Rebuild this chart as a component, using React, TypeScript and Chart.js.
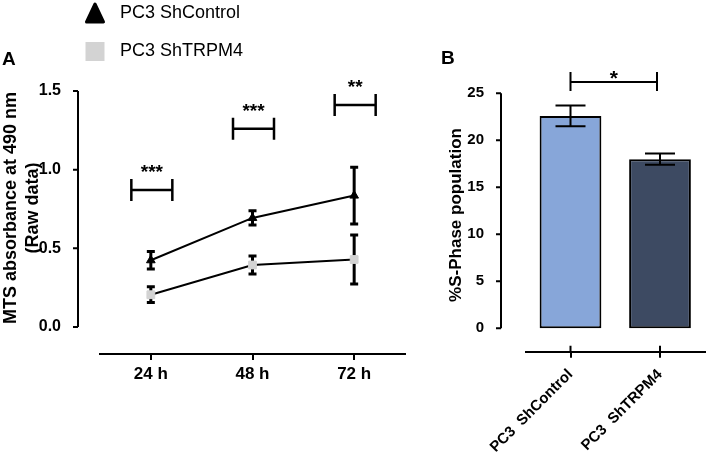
import React, { useEffect, useRef } from 'react';
import { Chart, registerables } from 'chart.js';

Chart.register(...registerables);

const FONT = '"Liberation Sans", Arial, Helvetica, sans-serif';

// ---- Panel A data ----
const TIMEPOINTS = ['24 h', '48 h', '72 h'];
const SHCONTROL_MEAN = [0.424, 0.693, 0.835];
const SHCONTROL_SEM = [0.055, 0.045, 0.18];
const SHTRPM4_MEAN = [0.205, 0.394, 0.429];
const SHTRPM4_SEM = [0.05, 0.057, 0.155];
const MTS_TICKS = [0, 0.5, 1.0, 1.5];
const MTS_SIG_Y = [0.87, 1.26, 1.41];
const MTS_SIG_TEXT = ['***', '***', '**'];
const MTS_TITLE = ['MTS absorbance at 490 nm', '(Raw data)'];
const LEGEND_LABELS = ['PC3 ShControl', 'PC3 ShTRPM4'];

// ---- Panel B data ----
const GROUPS = ['PC3  ShControl', 'PC3  ShTRPM4'];
const SPHASE_MEAN = [22.6, 18.0];
const SPHASE_SEM = [1.1, 0.6];
const SPHASE_TICKS = [0, 5, 10, 15, 20, 25];
const SPHASE_SIG_Y = 26.2;
const SPHASE_SIG_TEXT = '*';

const LIGHT_BLUE = '#87a6d9';
const DARK_BLUE = '#3d4a62';
const LIGHT_GRAY = '#d3d3d3';

const font = (size: number, weight: string = 'bold') => `${weight} ${size}px ${FONT}`;

const panelAPlugin = {
  id: 'panelA',
  beforeDatasetsDraw(chart: any) {
    const { ctx } = chart;
    const x = chart.scales.x;
    const y = chart.scales.y;
    ctx.save();
    ctx.strokeStyle = '#000';
    ctx.lineWidth = 3;
    const series: [number[], number[]][] = [
      [SHCONTROL_MEAN, SHCONTROL_SEM],
      [SHTRPM4_MEAN, SHTRPM4_SEM],
    ];
    series.forEach(([m, e]) => {
      m.forEach((v, i) => {
        const px = x.getPixelForValue(i);
        const top = y.getPixelForValue(v + e[i]);
        const bot = y.getPixelForValue(v - e[i]);
        ctx.beginPath();
        ctx.moveTo(px, top);
        ctx.lineTo(px, bot);
        ctx.moveTo(px - 4, top);
        ctx.lineTo(px + 4, top);
        ctx.moveTo(px - 4, bot);
        ctx.lineTo(px + 4, bot);
        ctx.stroke();
      });
    });
    ctx.restore();
  },
  afterDraw(chart: any) {
    const { ctx, chartArea } = chart;
    const x = chart.scales.x;
    const y = chart.scales.y;
    ctx.save();
    // detached y axis line
    const ax = chartArea.left - 22;
    ctx.strokeStyle = '#000';
    ctx.lineWidth = 2;
    ctx.beginPath();
    ctx.moveTo(ax, y.getPixelForValue(MTS_TICKS[MTS_TICKS.length - 1]));
    ctx.lineTo(ax, y.getPixelForValue(MTS_TICKS[0]));
    MTS_TICKS.forEach((v) => {
      const py = y.getPixelForValue(v);
      ctx.moveTo(ax - 5, py);
      ctx.lineTo(ax, py);
    });
    ctx.stroke();

    // y axis title (two lines)
    const midY = (chartArea.top + chartArea.bottom) / 2;
    ctx.save();
    ctx.fillStyle = '#000';
    ctx.font = font(18);
    ctx.textAlign = 'center';
    ctx.textBaseline = 'middle';
    ctx.translate(11, midY);
    ctx.rotate(-Math.PI / 2);
    ctx.fillText(MTS_TITLE[0], 0, 0);
    ctx.fillText(MTS_TITLE[1], 0, 22);
    ctx.restore();

    // significance brackets
    ctx.lineWidth = 2.5;
    ctx.fillStyle = '#000';
    ctx.font = font(19);
    ctx.textAlign = 'center';
    ctx.textBaseline = 'alphabetic';
    MTS_SIG_Y.forEach((v, i) => {
      const cx = x.getPixelForValue(i) + 1;
      const py = y.getPixelForValue(v);
      ctx.beginPath();
      ctx.moveTo(cx - 20.5, py);
      ctx.lineTo(cx + 20.5, py);
      ctx.moveTo(cx - 20.5, py - 11);
      ctx.lineTo(cx - 20.5, py + 11);
      ctx.moveTo(cx + 20.5, py - 11);
      ctx.lineTo(cx + 20.5, py + 11);
      ctx.stroke();
      ctx.fillText(MTS_SIG_TEXT[i], cx, py - 12);
    });

    // legend
    ctx.fillStyle = '#000';
    ctx.lineJoin = 'round';
    ctx.lineWidth = 3;
    ctx.beginPath();
    ctx.moveTo(95, 4);
    ctx.lineTo(103.5, 22);
    ctx.lineTo(86.5, 22);
    ctx.closePath();
    ctx.fill();
    ctx.stroke();
    ctx.fillStyle = LIGHT_GRAY;
    ctx.fillRect(85.5, 42, 19, 19);
    ctx.fillStyle = '#000';
    ctx.font = font(18, 'normal');
    ctx.textAlign = 'left';
    ctx.textBaseline = 'middle';
    ctx.fillText(LEGEND_LABELS[0], 120, 13);
    ctx.fillText(LEGEND_LABELS[1], 120, 51);

    // panel letter
    ctx.font = font(19);
    ctx.fillText('A', 2, 60);
    ctx.restore();
  },
};

const panelBPlugin = {
  id: 'panelB',
  afterDatasetsDraw(chart: any) {
    const { ctx } = chart;
    const x = chart.scales.x;
    const y = chart.scales.y;
    ctx.save();
    ctx.strokeStyle = '#000';
    ctx.lineWidth = 2;
    SPHASE_MEAN.forEach((v, i) => {
      const px = x.getPixelForValue(i);
      const top = y.getPixelForValue(v + SPHASE_SEM[i]);
      const bot = y.getPixelForValue(v - SPHASE_SEM[i]);
      ctx.beginPath();
      ctx.moveTo(px, top);
      ctx.lineTo(px, bot);
      ctx.moveTo(px - 15, top);
      ctx.lineTo(px + 15, top);
      ctx.moveTo(px - 15, bot);
      ctx.lineTo(px + 15, bot);
      ctx.stroke();
    });
    ctx.restore();
  },
  afterDraw(chart: any) {
    const { ctx, chartArea } = chart;
    const x = chart.scales.x;
    const y = chart.scales.y;
    ctx.save();
    ctx.strokeStyle = '#000';
    ctx.fillStyle = '#000';
    ctx.lineWidth = 2;
    // detached y axis
    const ax = chartArea.left - 24.75;
    ctx.beginPath();
    ctx.moveTo(ax, y.getPixelForValue(SPHASE_TICKS[SPHASE_TICKS.length - 1]));
    ctx.lineTo(ax, y.getPixelForValue(SPHASE_TICKS[0]));
    SPHASE_TICKS.forEach((v) => {
      const py = y.getPixelForValue(v);
      ctx.moveTo(ax - 5, py);
      ctx.lineTo(ax, py);
    });
    // x tick marks crossing upward
    GROUPS.forEach((_, i) => {
      const px = x.getPixelForValue(i);
      ctx.moveTo(px, chartArea.bottom - 6);
      ctx.lineTo(px, chartArea.bottom);
    });
    ctx.stroke();

    // significance bracket
    const x0 = x.getPixelForValue(0);
    const x1 = x.getPixelForValue(1) - 3;
    const py = y.getPixelForValue(SPHASE_SIG_Y);
    ctx.beginPath();
    ctx.moveTo(x0, py);
    ctx.lineTo(x1, py);
    ctx.moveTo(x0, py - 10);
    ctx.lineTo(x0, py + 9);
    ctx.moveTo(x1, py - 10);
    ctx.lineTo(x1, py + 9);
    ctx.stroke();
    ctx.font = font(21);
    ctx.textAlign = 'center';
    ctx.textBaseline = 'alphabetic';
    ctx.fillText(SPHASE_SIG_TEXT, (x0 + x1) / 2, py + 3);

    // panel letter
    ctx.font = font(19);
    ctx.textAlign = 'left';
    ctx.textBaseline = 'middle';
    ctx.fillText('B', 21, 59);
    ctx.restore();
  },
};

export default function App() {
  const refA = useRef<HTMLCanvasElement>(null);
  const refB = useRef<HTMLCanvasElement>(null);

  useEffect(() => {
    const chartA = new Chart(refA.current as HTMLCanvasElement, {
      type: 'line',
      data: {
        labels: TIMEPOINTS,
        datasets: [
          {
            label: LEGEND_LABELS[0],
            data: SHCONTROL_MEAN,
            borderColor: '#000',
            borderWidth: 2,
            pointStyle: 'triangle',
            pointRadius: 5,
            pointBackgroundColor: '#000',
            pointBorderColor: '#000',
            pointBorderWidth: 1,
            tension: 0,
          },
          {
            label: LEGEND_LABELS[1],
            data: SHTRPM4_MEAN,
            borderColor: '#000',
            borderWidth: 2,
            pointStyle: 'rect',
            pointRadius: 5.5,
            pointBackgroundColor: LIGHT_GRAY,
            pointBorderColor: LIGHT_GRAY,
            pointBorderWidth: 1,
            tension: 0,
          },
        ],
      },
      options: {
        responsive: false,
        animation: false,
        events: [],
        layout: { padding: { left: 0, top: 62, right: 25, bottom: 59 } },
        plugins: { legend: { display: false }, tooltip: { enabled: false } },
        scales: {
          x: {
            type: 'category',
            offset: true,
            grid: {
              display: true,
              drawOnChartArea: false,
              drawTicks: true,
              tickLength: 6,
              color: '#000',
              lineWidth: 2,
              offset: false,
            },
            border: { display: true, color: '#000', width: 2 },
            ticks: {
              color: '#000',
              font: { family: FONT, size: 17, weight: 'bold' },
              padding: 4,
              maxRotation: 0,
              minRotation: 0,
            },
            afterFit: (s: any) => {
              s.height = 50;
            },
          },
          y: {
            type: 'linear',
            min: -0.1716,
            max: 1.684,
            grid: { display: false },
            border: { display: false },
            afterBuildTicks: (s: any) => {
              s.ticks = MTS_TICKS.map((v) => ({ value: v }));
            },
            ticks: {
              color: '#000',
              font: { family: FONT, size: 16, weight: 'bold' },
              padding: 31,
              callback: (v: any) => Number(v).toFixed(1),
            },
            title: { display: false },
            afterFit: (s: any) => {
              s.width = 100;
            },
          },
        },
      } as any,
      plugins: [panelAPlugin],
    });

    const chartB = new Chart(refB.current as HTMLCanvasElement, {
      type: 'bar',
      data: {
        labels: GROUPS,
        datasets: [
          {
            label: '%S-Phase population',
            data: SPHASE_MEAN,
            backgroundColor: [LIGHT_BLUE, DARK_BLUE],
            borderColor: '#000',
            borderWidth: 2,
            borderSkipped: false,
            categoryPercentage: 1,
            barPercentage: 0.69,
          },
        ],
      },
      options: {
        responsive: false,
        animation: false,
        events: [],
        layout: { padding: { left: 0, top: 78.3, right: 4.25, bottom: 11.3 } },
        plugins: { legend: { display: false }, tooltip: { enabled: false } },
        scales: {
          x: {
            type: 'category',
            grid: {
              display: true,
              drawOnChartArea: false,
              drawTicks: true,
              tickLength: 6,
              color: '#000',
              lineWidth: 2,
              offset: false,
            },
            border: { display: true, color: '#000', width: 2 },
            ticks: {
              color: '#000',
              font: { family: FONT, size: 15, weight: 'bold' },
              padding: 8,
              minRotation: 45,
              maxRotation: 45,
              autoSkip: false,
            },
            afterFit: (s: any) => {
              s.height = 100;
            },
          },
          y: {
            type: 'linear',
            min: -2.49,
            max: 26.6,
            grid: { display: false },
            border: { display: false },
            afterBuildTicks: (s: any) => {
              s.ticks = SPHASE_TICKS.map((v) => ({ value: v }));
            },
            ticks: {
              color: '#000',
              font: { family: FONT, size: 15, weight: 'bold' },
              padding: 33.75,
            },
            title: {
              display: true,
              text: '%S-Phase population',
              color: '#000',
              font: { family: FONT, size: 17, weight: 'bold', lineHeight: 1.2 },
              padding: { top: 26, bottom: 0 },
            },
            afterFit: (s: any) => {
              s.width = 105.75;
            },
          },
        },
      } as any,
      plugins: [panelBPlugin],
    });

    return () => {
      chartA.destroy();
      chartB.destroy();
    };
  }, []);

  return (
    <div
      style={{
        position: 'fixed',
        left: 0,
        top: 0,
        width: 709,
        height: 463,
        background: '#fff',
        overflow: 'hidden',
      }}
    >
      <canvas
        ref={refA}
        width={430}
        height={463}
        style={{ position: 'absolute', left: 0, top: 0, display: 'block' }}
      />
      <canvas
        ref={refB}
        width={289}
        height={463}
        style={{ position: 'absolute', left: 420, top: 0, display: 'block' }}
      />
    </div>
  );
}
